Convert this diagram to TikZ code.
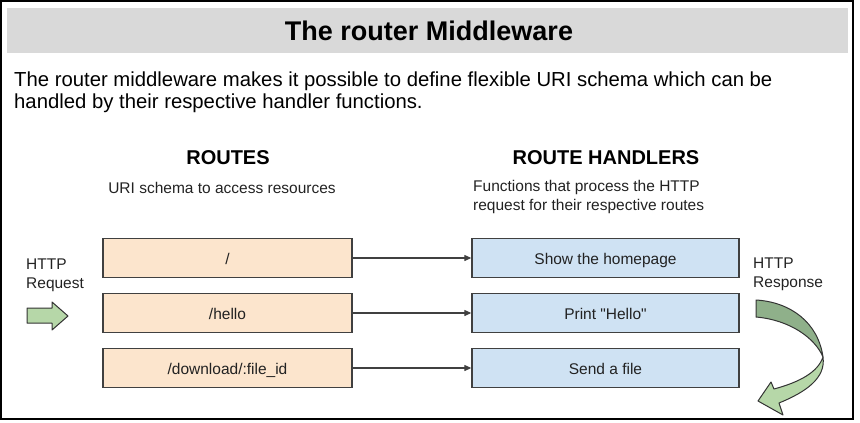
\documentclass[tikz,border=0pt]{standalone}
\usepackage{fontspec}
\setmainfont{Liberation Sans}
\usetikzlibrary{arrows.meta}
\definecolor{bandgray}{HTML}{D9D9D9}
\definecolor{routefill}{HTML}{FCE5CD}
\definecolor{handlerfill}{HTML}{CFE2F3}
\definecolor{boxline}{HTML}{404040}
\definecolor{lightgreen}{HTML}{B6D7A8}
\definecolor{darkgreen}{HTML}{8FB08A}
\definecolor{textgray}{HTML}{222222}
\begin{document}
\begin{tikzpicture}[x=1pt,y=-1pt,
  routebox/.style={draw=boxline,line width=1.3pt,fill=routefill,minimum width=249pt,minimum height=39pt,inner sep=0pt,text height=12pt,text depth=0pt,font=\fontsize{15.5}{18}\selectfont,text=textgray},
  handlerbox/.style={draw=boxline,line width=1.3pt,fill=handlerfill,minimum width=267pt,minimum height=39pt,inner sep=0pt,text height=12pt,text depth=0pt,font=\fontsize{15.5}{18}\selectfont,text=textgray},
  heading/.style={font=\bfseries\fontsize{20}{24}\selectfont,inner sep=0pt},
  subtext/.style={font=\fontsize{15.5}{19.5}\selectfont,inner sep=0pt,text=textgray,align=left},
  link/.style={draw=black!75,line width=1.1pt,-{Triangle[length=7pt,width=6pt]}},
  greenarrow/.style={draw=black!80,line width=1pt,line join=round}
]
\useasboundingbox (0,0) rectangle (860,423);
\draw[line width=1.3pt] (1,1) rectangle (853,419);
\fill[bandgray] (7,8) rectangle (848,53);
\node[font=\bfseries\fontsize{27}{32}\selectfont,inner sep=0pt] (title) at (429,31) {The router Middleware};
\node[anchor=base west,font=\fontsize{20.3}{22}\selectfont,inner sep=0pt,align=left] (intro) at (14,108)
  {The router middleware makes it possible to define flexible URI schema which can be\\handled by their respective handler functions.};

\node[heading] (routes) at (228,158) {ROUTES};
\node[heading] (handlers) at (606,158) {ROUTE HANDLERS};
\node[subtext] (routesub) at (222,188) {URI schema to access resources};
\node[subtext,anchor=north west] (handlersub) at (473,180) {Functions that process the HTTP\\request for their respective routes};

\node[routebox] (r1) at (227.5,258) {/};
\node[routebox] (r2) at (227.5,313) {/hello};
\node[routebox] (r3) at (227.5,368) {/download/:file\_id};
\node[handlerbox] (h1) at (605.5,258) {Show the homepage};
\node[handlerbox] (h2) at (605.5,313) {Print \textquotedbl Hello\textquotedbl};
\node[handlerbox] (h3) at (605.5,368) {Send a file};

\draw[link] (r1) -- (h1);
\draw[link] (r2) -- (h2);
\draw[link] (r3) -- (h3);

\node[subtext,anchor=north west] (req) at (26,258.5) {HTTP\\Request};
\node[subtext,anchor=north west] (resp) at (753,257.5) {HTTP\\Response};

% request arrow
\filldraw[greenarrow,fill=lightgreen] (27,308) -- (52,308) -- (52,302) -- (68,316) -- (52,330) -- (52,323) -- (27,323) -- cycle;

% response curved arrow: upper (back) part
\filldraw[greenarrow,fill=darkgreen] (756,300) .. controls (790,302) and (818,322) .. (823,357)
  .. controls (815,338) and (790,320) .. (756,317) -- cycle;
% lower (front) part
\filldraw[greenarrow,fill=lightgreen] (823,357) .. controls (826,378) and (806,392) .. (779,403)
  -- (783,415) -- (758,401) -- (771,382) -- (774,389)
  .. controls (800,382) and (818,372) .. (823,357) -- cycle;
\end{tikzpicture}
\end{document}
